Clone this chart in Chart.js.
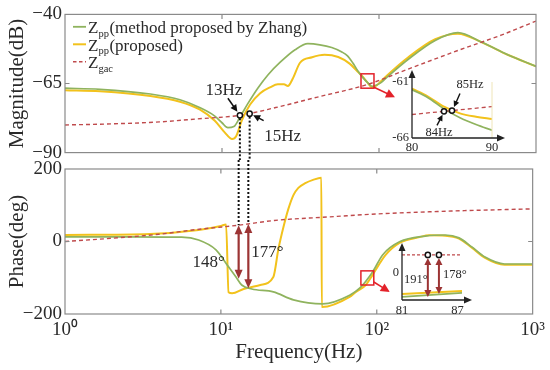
<!DOCTYPE html>
<html><head><meta charset="utf-8">
<script src="https://cdn.jsdelivr.net/npm/chart.js@4.4.1/dist/chart.umd.min.js"></script>
<style>
html,body{margin:0;padding:0;background:#fff;}
#wrap{position:relative;width:550px;height:370px;overflow:hidden;background:#fff;}
#wrap canvas{position:absolute;}
</style></head><body>
<div id="wrap">
<canvas id="mag" width="550" height="167" style="left:0;top:0"></canvas>
<canvas id="ph" width="550" height="220" style="left:0;top:150px"></canvas>
<canvas id="insMag" width="140" height="98" style="left:370px;top:62px"></canvas>
<canvas id="insPh" width="125" height="88" style="left:360px;top:232px"></canvas>
</div>
<script>
// ---------------- DATA ----------------
const freqTicks = [1, 10, 100, 1000];
const freqTickLabels = ['10\u2070', '10\u00B9', '10\u00B2', '10\u00B3'];
const magTicks = [-90, -65, -40];
const phaseTicks = [-200, 0, 200];

// Magnitude (dB)
const zhangMagF = [1, 1.67, 3.5, 5.4, 7.2, 9.0, 10.0, 10.9, 11.9, 13.0, 14.6, 16.9, 19.6, 23.4, 29.2, 35.2, 42, 50, 58, 63, 68, 73, 78, 85, 90.4, 95, 103, 113, 153, 228, 318, 452, 660, 1000];
const zhangMag  = [-66.7, -67.1, -68.8, -70.9, -73.7, -76.8, -79.2, -81.0, -80.6, -77.2, -72.3, -66.7, -61.9, -57.4, -52.8, -50.6, -51.0, -52.0, -53.6, -55.0, -57.5, -60.3, -62.5, -64.8, -66.0, -65.7, -64.7, -62.6, -56.3, -49.4, -46.6, -50.1, -54.6, -58.8];
const propMagF = [1, 1.67, 3.5, 5.4, 7.2, 9.0, 10.4, 11.6, 12.3, 13.4, 15.1, 17.5, 20.2, 22.7, 24.8, 26.3, 28.2, 31.4, 37.5, 45, 55, 65, 72, 78, 84, 90.4, 96.5, 103, 113, 153, 228, 318, 452, 660, 1000];
const propMag  = [-67.4, -67.8, -69.5, -71.6, -74.4, -78.5, -82.7, -85.1, -84.1, -78.2, -72.6, -68.5, -66.4, -65.3, -65.3, -65.9, -63.3, -57.5, -55.5, -54.6, -55.4, -57.8, -60.3, -62.3, -64.5, -66.4, -65.7, -64.2, -62.0, -55.6, -49.0, -47.0, -50.1, -54.6, -58.8];
const gacMagF = [1, 2, 4, 7, 13, 22, 40, 85, 150, 320, 600, 1000];
const gacMag  = [-80.0, -79.6, -78.9, -77.8, -76.5, -73.7, -70.0, -65.3, -60.0, -53.0, -47.5, -42.4];

// Phase (deg)
const zhangPhF = [1, 2.5, 5.6, 7.2, 9.3, 11.2, 12.5, 13.6, 15.8, 21.7, 29.2, 45, 67, 78, 94, 109, 140, 205, 275, 337, 407, 495, 660, 1000];
const zhangPh  = [13, 13, 12, 4, -23, -70, -98, -120, -131, -139, -161, -172, -148, -128, -84, -37, -1, 15, 18, 10, -15, -43, -62, -62];
const propPhF = [1, 3.5, 7.2, 10, 10.8, 11.2, 11.8, 14, 17.9, 21.7, 23.4, 25.2, 27.1, 29.2, 31.4, 34.8, 39, 44.1, 44.4, 67, 73.5, 85, 94, 114, 140, 188, 217, 275, 337, 407, 495, 660, 1000];
const propPh  = [18, 21, 32, 43, 47, -140, -143, -131, -120, -98, -20, 40, 90, 128, 148, 161, 170, 176, -181, -153, -139, -120, -92, -37, -4, 12, 17, 16, 8, -17, -45, -64, -64];
const gacPhF = [1, 2, 4, 7, 13, 22, 50, 100, 300, 1000];
const gacPh  = [0, 9, 20, 33, 45, 58, 68, 76, 84, 90];

// Annotations (main)
const crossF = [13, 15];
const crossMag = [-76.5, -75.9];
const crossLabels = ['13Hz', '15Hz'];
const crossPhase = [45, 48];
const phaseGapDeg = [148, 177];
const phaseGapLabels = ['148\u00B0', '177\u00B0'];
const magBoxF = [76.8, 92.9], magBoxV = [-61.5, -66.7];
const phBoxF = [79.1, 95.7], phBoxV = [-81, -120];

// Inset: magnitude zoom 80-90 Hz
const insMagF = [80, 82, 84, 86, 88, 90];
const insZhang = [-61.7, -62.4, -63.4, -64.2, -64.8, -65.3];
const insProp  = [-61.6, -62.3, -63.2, -63.8, -64.1, -64.3];
const insGacF = [80, 90];
const insGac  = [-63.9, -63.2];
const insCrossF = [84, 85];
const insCrossMag = [-63.62, -63.55];
const insCrossLabels = ['84Hz', '85Hz'];
const insMagTicksX = [80, 90];
const insMagTicksY = [-66, -61];

// Inset: phase zoom 81-87 Hz
const insPhF = [81, 87.5];
const insPhZhang = [-111, -93];
const insPhProp  = [-98, -84];
const insPhGac   = [80, 80];
const insPhCrossF = [83.8, 85];
const insPhGapDeg = [191, 178];
const insPhGapLabels = ['191\u00B0', '178\u00B0'];
const insPhTicksX = [81, 87];
const insPhTicksY = [0];

// ---------------- STYLE ----------------
const FONT = '"Liberation Serif", "Times New Roman", serif';
const GREEN = '#8fb35e', YELLOW = '#f2c21c', RED = '#bf4a4c', DARKRED = '#9c3434';
const FRAME = '#8a8a8a', TXT = '#2a2a2a', ALERT = '#e3222a';

const pts = (fs, vs) => fs.map((f, i) => ({x: f, y: vs[i]}));
const fmtMinus = v => v < 0 ? '\u2212' + Math.abs(v) : String(v);

function head(ctx, x1, y1, x2, y2, len, half) {
  const a = Math.atan2(y2 - y1, x2 - x1), c = Math.cos(a), s = Math.sin(a);
  ctx.beginPath();
  ctx.moveTo(x2, y2);
  ctx.lineTo(x2 - len * c + half * s, y2 - len * s - half * c);
  ctx.lineTo(x2 - len * c - half * s, y2 - len * s + half * c);
  ctx.closePath(); ctx.fill();
}
function arrow(ctx, x1, y1, x2, y2, color, lw, len, half, both) {
  const a = Math.atan2(y2 - y1, x2 - x1), c = Math.cos(a), s = Math.sin(a);
  ctx.save();
  ctx.strokeStyle = color; ctx.fillStyle = color; ctx.lineWidth = lw; ctx.setLineDash([]);
  const k = len * 0.7;
  ctx.beginPath();
  ctx.moveTo(both ? x1 + k * c : x1, both ? y1 + k * s : y1);
  ctx.lineTo(x2 - k * c, y2 - k * s);
  ctx.stroke();
  head(ctx, x1, y1, x2, y2, len, half);
  if (both) head(ctx, x2, y2, x1, y1, len, half);
  ctx.restore();
}
function circle(ctx, x, y) {
  ctx.save();
  ctx.beginPath(); ctx.arc(x, y, 2.6, 0, Math.PI * 2);
  ctx.fillStyle = '#fff'; ctx.fill();
  ctx.lineWidth = 1.5; ctx.strokeStyle = '#111'; ctx.setLineDash([]); ctx.stroke();
  ctx.restore();
}
function text(ctx, str, x, y, size, align) {
  ctx.save();
  ctx.font = size + 'px ' + FONT; ctx.fillStyle = TXT;
  ctx.textAlign = align || 'center'; ctx.textBaseline = 'middle';
  ctx.fillText(str, x, y);
  ctx.restore();
}
function frame(ctx, a, x, y, xt, yt) {
  ctx.save();
  ctx.strokeStyle = FRAME; ctx.lineWidth = 1.2; ctx.setLineDash([]);
  ctx.strokeRect(a.left, a.top, a.right - a.left, a.bottom - a.top);
  const L = 4.5;
  ctx.beginPath();
  xt.forEach(v => { const px = x.getPixelForValue(v);
    ctx.moveTo(px, a.top); ctx.lineTo(px, a.top + L);
    ctx.moveTo(px, a.bottom); ctx.lineTo(px, a.bottom - L); });
  yt.forEach(v => { const py = y.getPixelForValue(v);
    ctx.moveTo(a.left, py); ctx.lineTo(a.left + L, py);
    ctx.moveTo(a.right, py); ctx.lineTo(a.right - L, py); });
  ctx.stroke();
  ctx.restore();
}
function box(ctx, x, y, fs, vs) {
  const x1 = x.getPixelForValue(fs[0]), x2 = x.getPixelForValue(fs[1]);
  const y1 = y.getPixelForValue(vs[0]), y2 = y.getPixelForValue(vs[1]);
  ctx.save(); ctx.strokeStyle = ALERT; ctx.lineWidth = 1.5; ctx.setLineDash([]);
  ctx.strokeRect(x1, y1, x2 - x1, y2 - y1); ctx.restore();
  return {x2, y2};
}

const legendRows = [
  {color: GREEN, dash: [], sub: 'pp', rest: '(method proposed by Zhang)', lw: 1.8},
  {color: YELLOW, dash: [], sub: 'pp', rest: '(proposed)', lw: 2},
  {color: RED, dash: [3.5, 2.5], sub: 'gac', rest: '', lw: 1.4}
];

const magDeco = {
  id: 'magDeco',
  afterDraw(chart) {
    const {ctx, chartArea: a, scales: {x, y}} = chart;
    frame(ctx, a, x, y, [10, 100], [-65]);
    // legend
    legendRows.forEach((r, i) => {
      const base = 33.3 + i * 17.5;
      ctx.save();
      ctx.strokeStyle = r.color; ctx.lineWidth = r.lw; ctx.setLineDash(r.dash);
      ctx.beginPath(); ctx.moveTo(a.left + 8, base - 6.5); ctx.lineTo(a.left + 21, base - 6.5); ctx.stroke();
      ctx.fillStyle = TXT; ctx.textBaseline = 'alphabetic'; ctx.textAlign = 'left';
      let tx = a.left + 23;
      ctx.font = '17px ' + FONT; ctx.fillText('Z', tx, base); tx += ctx.measureText('Z').width;
      ctx.font = '10.5px ' + FONT; ctx.fillText(r.sub, tx, base + 3.5); tx += ctx.measureText(r.sub).width + 0.5;
      if (r.rest) { ctx.font = '17px ' + FONT; ctx.fillText(r.rest, tx, base); }
      ctx.restore();
    });
    // dotted drop lines
    crossF.forEach((f, i) => {
      const px = x.getPixelForValue(f), py = y.getPixelForValue(crossMag[i]);
      ctx.save(); ctx.strokeStyle = '#111'; ctx.lineWidth = 2; ctx.setLineDash([2, 2]);
      ctx.beginPath(); ctx.moveTo(px, py + 3); ctx.lineTo(px, 160); ctx.stroke(); ctx.restore();
    });
    crossF.forEach((f, i) => circle(ctx, x.getPixelForValue(f), y.getPixelForValue(crossMag[i])));
    const c1x = x.getPixelForValue(crossF[0]), c1y = y.getPixelForValue(crossMag[0]);
    const c2x = x.getPixelForValue(crossF[1]), c2y = y.getPixelForValue(crossMag[1]);
    text(ctx, crossLabels[0], c1x - 16, c1y - 25, 17);
    arrow(ctx, c1x - 12, c1y - 17, c1x - 2.5, c1y - 3.5, '#111', 1.5, 7, 3.5, false);
    text(ctx, crossLabels[1], c2x + 33, c2y + 23, 17);
    arrow(ctx, c2x + 14, c2y + 7, c2x + 3.5, c2y + 1.5, '#111', 1.5, 7, 3.5, false);
    // red zoom box + arrow
    const b = box(ctx, x, y, magBoxF, magBoxV);
    arrow(ctx, b.x2, b.y2 - 1, b.x2 + 21, b.y2 + 9, ALERT, 1.5, 9, 4.5, false);
  }
};

const phDeco = {
  id: 'phDeco',
  afterDraw(chart) {
    const {ctx, chartArea: a, scales: {x, y}} = chart;
    frame(ctx, a, x, y, [10, 100], [0]);
    crossF.forEach((f, i) => {
      const px = x.getPixelForValue(f), pTop = y.getPixelForValue(crossPhase[i]);
      ctx.save(); ctx.strokeStyle = '#111'; ctx.lineWidth = 2; ctx.setLineDash([2, 2]);
      ctx.beginPath(); ctx.moveTo(px, 10); ctx.lineTo(px, pTop); ctx.stroke(); ctx.restore();
      const pBot = y.getPixelForValue(crossPhase[i] - phaseGapDeg[i]);
      arrow(ctx, px, pTop, px, pBot, DARKRED, 2.2, 9, 4, true);
    });
    const p1 = x.getPixelForValue(crossF[0]), p2 = x.getPixelForValue(crossF[1]);
    text(ctx, phaseGapLabels[0], p1 - 30, y.getPixelForValue(crossPhase[0] - 102) , 17);
    text(ctx, phaseGapLabels[1], p2 + 19, y.getPixelForValue(crossPhase[1] - 79), 17);
    const b = box(ctx, x, y, phBoxF, phBoxV);
    arrow(ctx, b.x2, b.y2 - 3, b.x2 + 16, b.y2 + 7, ALERT, 1.5, 9, 4.5, false);
  }
};

const baseTickFont = {family: FONT, size: 19};
const titleFont = {family: FONT, size: 21, lineHeight: 1};

new Chart(document.getElementById('mag'), {
  type: 'line',
  data: {datasets: [
    {label: 'Zgac', data: pts(gacMagF, gacMag), borderColor: RED, borderWidth: 1.4, borderDash: [4, 3], pointRadius: 0, cubicInterpolationMode: 'monotone'},
    {label: 'Zpp(method proposed by Zhang)', data: pts(zhangMagF, zhangMag), borderColor: GREEN, borderWidth: 1.7, pointRadius: 0, cubicInterpolationMode: 'monotone'},
    {label: 'Zpp(proposed)', data: pts(propMagF, propMag), borderColor: YELLOW, borderWidth: 2, pointRadius: 0, cubicInterpolationMode: 'monotone'}
  ]},
  options: {
    responsive: false, animation: false, events: [],
    layout: {padding: {top: 13, right: 14, bottom: 10, left: 0}},
    plugins: {legend: {display: false}, tooltip: {enabled: false}},
    scales: {
      x: {type: 'logarithmic', min: 1, max: 1000, display: false},
      y: {min: -90, max: -40,
        afterFit(s) { s.width = 65; },
        afterBuildTicks(s) { s.ticks = magTicks.map(v => ({value: v})); },
        grid: {display: false, drawTicks: false}, border: {display: false},
        ticks: {padding: 3, color: TXT, font: baseTickFont, callback: v => fmtMinus(v)},
        title: {display: true, text: 'Magnitude(dB)', color: TXT, font: titleFont, padding: {top: 7, bottom: 0}}
      }
    }
  },
  plugins: [magDeco]
});

new Chart(document.getElementById('ph'), {
  type: 'line',
  data: {datasets: [
    {label: 'Zgac', data: pts(gacPhF, gacPh), borderColor: RED, borderWidth: 1.4, borderDash: [4, 3], pointRadius: 0, cubicInterpolationMode: 'monotone'},
    {label: 'Zpp(method proposed by Zhang)', data: pts(zhangPhF, zhangPh), borderColor: GREEN, borderWidth: 1.7, pointRadius: 0, cubicInterpolationMode: 'monotone'},
    {label: 'Zpp(proposed)', data: pts(propPhF, propPh), borderColor: YELLOW, borderWidth: 2, pointRadius: 0, cubicInterpolationMode: 'monotone'}
  ]},
  options: {
    responsive: false, animation: false, events: [],
    layout: {padding: {top: 19, right: 14, bottom: 0, left: 0}},
    plugins: {legend: {display: false}, tooltip: {enabled: false}},
    scales: {
      x: {type: 'logarithmic', min: 1, max: 1000,
        afterFit(s) { s.height = 56; },
        afterBuildTicks(s) { s.ticks = freqTicks.map(v => ({value: v})); },
        grid: {display: false, drawTicks: false}, border: {display: false},
        ticks: {padding: 5, autoSkip: false, maxRotation: 0, color: TXT, font: baseTickFont,
          callback: v => freqTickLabels[freqTicks.indexOf(v)]},
        title: {display: true, text: 'Frequency(Hz)', color: TXT, font: titleFont, padding: {top: 0, bottom: 7.5}}
      },
      y: {min: -200, max: 200,
        afterFit(s) { s.width = 65; },
        afterBuildTicks(s) { s.ticks = phaseTicks.map(v => ({value: v})); },
        grid: {display: false, drawTicks: false}, border: {display: false},
        ticks: {padding: 3, color: TXT, font: baseTickFont, callback: v => fmtMinus(v)},
        title: {display: true, text: 'Phase(deg)', color: TXT, font: titleFont, padding: {top: 7, bottom: 0}}
      }
    }
  },
  plugins: [phDeco]
});

// inset: magnitude
const insMagDeco = {
  id: 'insMagDeco',
  afterDraw(chart) {
    const {ctx, chartArea: a, scales: {x, y}} = chart;
    ctx.save(); ctx.strokeStyle = '#efe5b8'; ctx.lineWidth = 1;
    ctx.beginPath(); ctx.moveTo(a.right, a.top); ctx.lineTo(a.right, a.bottom); ctx.stroke(); ctx.restore();
    arrow(ctx, a.left, a.bottom, a.left, a.top - 12, '#222', 1.3, 8, 3.5, false);
    arrow(ctx, a.left, a.bottom, a.right + 13, a.bottom, '#222', 1.3, 8, 3.5, false);
    const c1x = x.getPixelForValue(insCrossF[0]), c1y = y.getPixelForValue(insCrossMag[0]);
    const c2x = x.getPixelForValue(insCrossF[1]), c2y = y.getPixelForValue(insCrossMag[1]);
    circle(ctx, c1x, c1y); circle(ctx, c2x, c2y);
    arrow(ctx, c1x - 7, c1y + 14, c1x - 1.5, c1y + 3.5, '#111', 1.4, 6, 3, false);
    arrow(ctx, c2x + 8, c2y - 17, c2x + 2, c2y - 3.5, '#111', 1.4, 6, 3, false);
    text(ctx, insCrossLabels[0], c1x - 5, c1y + 21, 12.5);
    text(ctx, insCrossLabels[1], c2x + 18, c2y - 26, 12.5);
  }
};
new Chart(document.getElementById('insMag'), {
  type: 'line',
  data: {datasets: [
    {data: pts(insGacF, insGac), borderColor: RED, borderWidth: 1.3, borderDash: [4, 3], pointRadius: 0},
    {data: pts(insMagF, insZhang), borderColor: GREEN, borderWidth: 1.7, pointRadius: 0, cubicInterpolationMode: 'monotone'},
    {data: pts(insMagF, insProp), borderColor: YELLOW, borderWidth: 2, pointRadius: 0, cubicInterpolationMode: 'monotone'}
  ]},
  options: {
    responsive: false, animation: false, events: [],
    layout: {padding: {top: 20, right: 18, bottom: 0, left: 0}},
    plugins: {legend: {display: false}, tooltip: {enabled: false}},
    scales: {
      x: {type: 'linear', min: 80, max: 90,
        afterFit(s) { s.height = 22; },
        afterBuildTicks(s) { s.ticks = insMagTicksX.map(v => ({value: v})); },
        grid: {display: false, drawTicks: false}, border: {display: false},
        ticks: {padding: 2, autoSkip: false, maxRotation: 0, color: TXT, font: {family: FONT, size: 12.5}}
      },
      y: {min: -66, max: -61,
        afterFit(s) { s.width = 42; },
        afterBuildTicks(s) { s.ticks = insMagTicksY.map(v => ({value: v})); },
        grid: {display: false, drawTicks: false}, border: {display: false},
        ticks: {padding: 3, color: TXT, font: {family: FONT, size: 12.5}}
      }
    }
  },
  plugins: [insMagDeco]
});

// inset: phase
const insPhDeco = {
  id: 'insPhDeco',
  afterDraw(chart) {
    const {ctx, chartArea: a, scales: {x, y}} = chart;
    arrow(ctx, a.left, a.bottom, a.left, a.top - 2, '#222', 1.3, 8, 3.5, false);
    arrow(ctx, a.left, a.bottom, a.right + 10, a.bottom, '#222', 1.3, 8, 3.5, false);
    insPhCrossF.forEach((f, i) => {
      const px = x.getPixelForValue(f), pTop = y.getPixelForValue(insPhGac[0]);
      const pBot = y.getPixelForValue(insPhGac[0] - insPhGapDeg[i]);
      arrow(ctx, px, pTop + 3, px, pBot, DARKRED, 2, 7, 3.5, true);
      circle(ctx, px, pTop);
    });
    const p1 = x.getPixelForValue(insPhCrossF[0]), p2 = x.getPixelForValue(insPhCrossF[1]);
    text(ctx, insPhGapLabels[0], p1 - 12, y.getPixelForValue(-35), 12.5);
    text(ctx, insPhGapLabels[1], p2 + 16, y.getPixelForValue(-12), 12.5);
  }
};
new Chart(document.getElementById('insPh'), {
  type: 'line',
  data: {datasets: [
    {data: pts(insPhF, insPhGac), borderColor: RED, borderWidth: 1.2, borderDash: [3, 2], pointRadius: 0},
    {data: pts(insPhF, insPhZhang), borderColor: GREEN, borderWidth: 1.7, pointRadius: 0},
    {data: pts(insPhF, insPhProp), borderColor: YELLOW, borderWidth: 2, pointRadius: 0}
  ]},
  options: {
    responsive: false, animation: false, events: [],
    layout: {padding: {top: 13, right: 23, bottom: 0, left: 0}},
    plugins: {legend: {display: false}, tooltip: {enabled: false}},
    scales: {
      x: {type: 'linear', min: 81, max: 87.5,
        afterFit(s) { s.height = 20; },
        afterBuildTicks(s) { s.ticks = insPhTicksX.map(v => ({value: v})); },
        grid: {display: false, drawTicks: false}, border: {display: false},
        ticks: {padding: 3, autoSkip: false, maxRotation: 0, color: TXT, font: {family: FONT, size: 12.5}}
      },
      y: {min: -125, max: 125,
        afterFit(s) { s.width = 42; },
        afterBuildTicks(s) { s.ticks = insPhTicksY.map(v => ({value: v})); },
        grid: {display: false, drawTicks: false}, border: {display: false},
        ticks: {padding: 3, color: TXT, font: {family: FONT, size: 12.5}}
      }
    }
  },
  plugins: [insPhDeco]
});
</script>
</body></html>
